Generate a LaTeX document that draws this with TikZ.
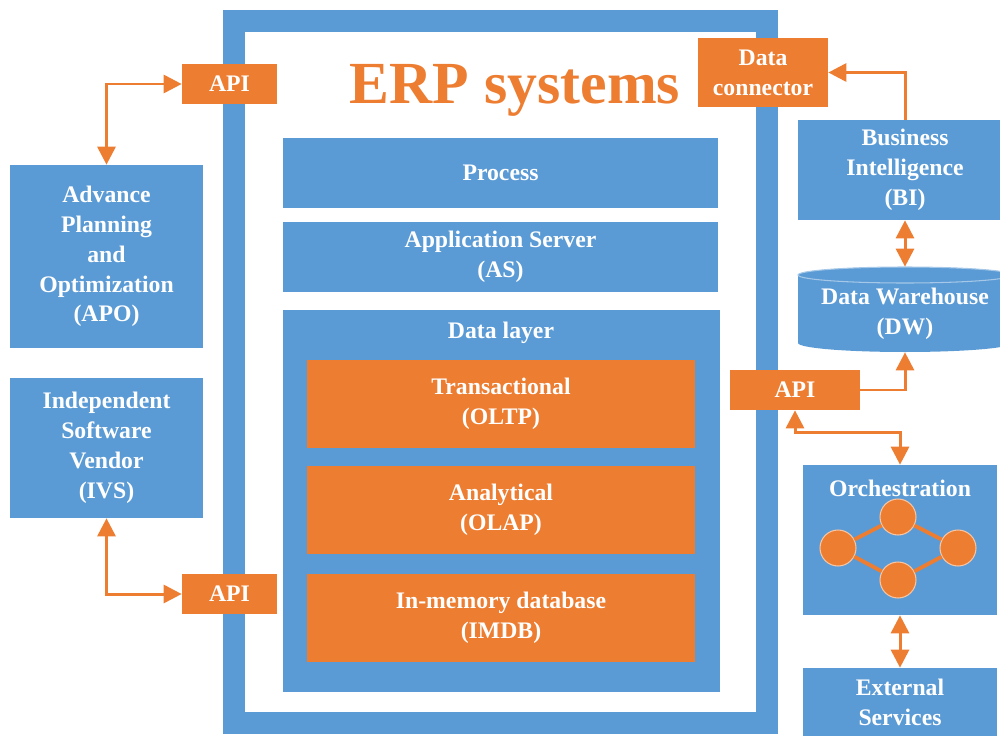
\documentclass[tikz,border=0pt]{standalone}
\usepackage{fontspec}
\setmainfont{Liberation Serif}
\usetikzlibrary{arrows.meta}

\definecolor{erpblue}{RGB}{91,155,213}
\definecolor{erporange}{RGB}{237,125,49}

\begin{document}
\begin{tikzpicture}[x=0.02cm, y=-0.02cm,
    box/.style={rectangle, fill=erpblue, text=white, align=center, inner sep=0pt,
      font=\fontsize{13.5}{17}\selectfont\bfseries},
    obox/.style={box, fill=erporange},
    txt/.style={text=white, align=center, inner sep=0pt, font=\fontsize{13.5}{17}\selectfont\bfseries},
    link/.style={draw=erporange, line width=1.7pt, -{Triangle[length=0.36cm, width=0.36cm]}},
    twoway/.style={link, {Triangle[length=0.36cm, width=0.36cm]}-{Triangle[length=0.36cm, width=0.36cm]}},
    dot/.style={circle, fill=erporange, draw=erporange!45!white, line width=0.6pt,
      minimum size=0.72cm, inner sep=0pt}]
  \useasboundingbox (0,0) rectangle (1000,737);

  % ERP block: frame, title and layers
  \draw[erpblue, line width=0.44cm] (233.5,21) rectangle (767,722.5);
  \node[text=erporange, font=\fontsize{34}{40}\selectfont\bfseries] (title) at (515,90) {ERP systems};

  \node[box, minimum width=8.7cm, minimum height=1.4cm] (process) at (500.5,173) {Process};
  \node[box, minimum width=8.7cm, minimum height=1.4cm] (appserver) at (500.5,257) {Application Server\\(AS)};
  \node[box, minimum width=8.74cm, minimum height=7.64cm] (datalayer) at (501.5,501) {};
  \node[txt] (dltitle) at (501,333) {Data layer};
  \node[obox, minimum width=7.76cm, minimum height=1.76cm] (oltp) at (501,404) {Transactional\\(OLTP)};
  \node[obox, minimum width=7.76cm, minimum height=1.76cm] (olap) at (501,510) {Analytical\\(OLAP)};
  \node[obox, minimum width=7.76cm, minimum height=1.76cm] (imdb) at (501,618) {In-memory database\\(IMDB)};

  % left side
  \node[box, minimum width=3.86cm, minimum height=3.66cm] (apo) at (106.5,256.5)
    {Advance\\Planning\\and\\Optimization\\(APO)};
  \node[box, minimum width=3.86cm, minimum height=2.8cm] (ivs) at (106.5,448)
    {Independent\\Software\\Vendor\\(IVS)};
  \node[obox, minimum width=1.9cm, minimum height=0.8cm] (apiA) at (229.5,84) {API};
  \node[obox, minimum width=1.9cm, minimum height=0.8cm] (apiB) at (229.5,594) {API};

  % right side
  \node[obox, minimum width=2.6cm, minimum height=1.38cm] (connector) at (763,72.5) {Data\\connector};
  \node[box, minimum width=4.28cm, minimum height=2cm] (bi) at (905,170) {Business\\Intelligence\\(BI)};

  % data warehouse drum
  \fill[erpblue] (798,275) -- (798,343)
    arc[start angle=180, end angle=360, x radius=2.14cm, y radius=0.18cm]
    -- (1012,275) arc[start angle=0, end angle=180, x radius=2.14cm, y radius=0.16cm] -- cycle;
  \draw[erpblue!55!white, line width=0.6pt] (905,275) ellipse [x radius=2.14cm, y radius=0.16cm];
  \node[minimum width=4.28cm, minimum height=1.7cm, inner sep=0pt] (dw) at (905,309.5) {};
  \node[txt] (dwtext) at (905,314) {Data Warehouse\\(DW)};

  \node[obox, minimum width=2.6cm, minimum height=0.8cm] (apiC) at (795,390) {API};

  \node[box, minimum width=3.88cm, minimum height=3cm] (orch) at (900,540) {};
  \node[txt] (orchtitle) at (900,488) {Orchestration};
  \foreach \n/\p in {w/{838,548}, n/{898,517}, e/{958,548}, s/{898,580}}
    \node[dot] (c\n) at (\p) {};
  \draw[erporange, line width=2.2pt] (cw) -- (cn) -- (ce) -- (cs) -- (cw);

  \node[box, minimum width=3.88cm, minimum height=1.36cm] (ext) at (900,702) {External\\Services};

  % connectors
  \draw[twoway] (apo.north) |- (apiA.west);
  \draw[twoway] (ivs.south) |- (apiB.west);
  \draw[link] (bi.north) |- (connector.east);
  \draw[twoway] (bi.south) -- (dw.north);
  \draw[link] (apiC.east) -| (dw.south);
  \draw[twoway] (apiC.south) -- ++(0,22) -| (orch.north);
  \draw[twoway] (orch.south) -- (ext.north);
\end{tikzpicture}
\end{document}
